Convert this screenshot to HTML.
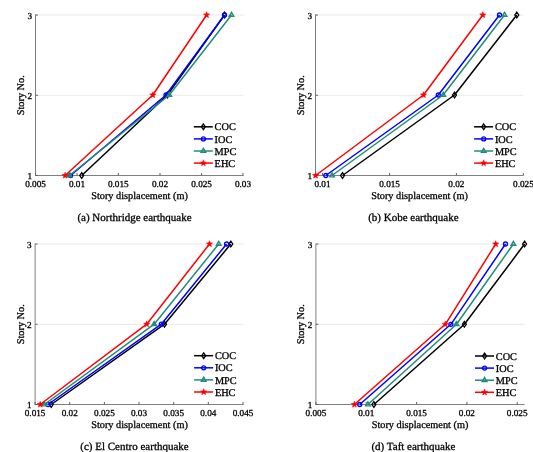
<!DOCTYPE html>
<html><head><meta charset="utf-8"><style>
svg{will-change:transform}
html,body{margin:0;padding:0;background:#fff;width:533px;height:452px;overflow:hidden;position:relative}
text{font-family:"Liberation Serif",serif;fill:#000;stroke:#000;stroke-width:0.3px;text-rendering:geometricPrecision}
.t{font-size:9.2px}
.l{font-size:10.3px}
.c{font-size:11px}
.g{font-size:10.3px}
</style></head><body>
<svg width="533" height="452" viewBox="0 0 533 452" style="position:absolute;left:0;top:0"><g><line x1="38.0" y1="15" x2="243.5" y2="15" stroke="#e8e8e8" stroke-width="1"/><line x1="38.0" y1="95.25" x2="243.5" y2="95.25" stroke="#e8e8e8" stroke-width="1"/><line x1="35.5" y1="14.5" x2="35.5" y2="176.0" stroke="#808080" stroke-width="1"/><line x1="35.0" y1="175.5" x2="243.5" y2="175.5" stroke="#808080" stroke-width="1"/><line x1="35.5" y1="15" x2="38.0" y2="15" stroke="#606060" stroke-width="1"/><text x="32.0" y="18.6" text-anchor="end" class="t">3</text><line x1="35.5" y1="95.25" x2="38.0" y2="95.25" stroke="#606060" stroke-width="1"/><text x="32.0" y="98.85" text-anchor="end" class="t">2</text><line x1="35.5" y1="175.5" x2="38.0" y2="175.5" stroke="#606060" stroke-width="1"/><text x="32.0" y="179.1" text-anchor="end" class="t">1</text><line x1="35.5" y1="175.5" x2="35.5" y2="173.0" stroke="#606060" stroke-width="1"/><text x="35.5" y="187.3" text-anchor="middle" class="t">0.005</text><line x1="77" y1="175.5" x2="77" y2="173.0" stroke="#606060" stroke-width="1"/><text x="77" y="187.3" text-anchor="middle" class="t">0.01</text><line x1="118.3" y1="175.5" x2="118.3" y2="173.0" stroke="#606060" stroke-width="1"/><text x="118.3" y="187.3" text-anchor="middle" class="t">0.015</text><line x1="160" y1="175.5" x2="160" y2="173.0" stroke="#606060" stroke-width="1"/><text x="160" y="187.3" text-anchor="middle" class="t">0.02</text><line x1="201.6" y1="175.5" x2="201.6" y2="173.0" stroke="#606060" stroke-width="1"/><text x="201.6" y="187.3" text-anchor="middle" class="t">0.025</text><line x1="243" y1="175.5" x2="243" y2="173.0" stroke="#606060" stroke-width="1"/><text x="243" y="187.3" text-anchor="middle" class="t">0.03</text><text x="139.5" y="199" text-anchor="middle" class="l">Story displacement (m)</text><text transform="translate(24.0,95.25) rotate(-90)" x="0" y="0" text-anchor="middle" class="l">Story No.</text><text x="134.5" y="220.9" text-anchor="middle" class="c">(a) Northridge earthquake</text><path d="M81.70 175.50 L167.40 95.00 L224.50 15.00" fill="none" stroke="#000000" stroke-width="1.5" stroke-linejoin="round"/><path d="M81.70 172.70L83.66 175.50L81.70 178.30L79.74 175.50Z" fill="none" stroke="#000000" stroke-width="1.3"/><path d="M167.40 92.20L169.36 95.00L167.40 97.80L165.44 95.00Z" fill="none" stroke="#000000" stroke-width="1.3"/><path d="M224.50 12.20L226.46 15.00L224.50 17.80L222.54 15.00Z" fill="none" stroke="#000000" stroke-width="1.3"/><path d="M70.60 175.50 L166.00 95.00 L224.50 15.00" fill="none" stroke="#0000ff" stroke-width="1.5" stroke-linejoin="round"/><circle cx="70.60" cy="175.50" r="2.0" fill="none" stroke="#0000ff" stroke-width="1.3"/><circle cx="166.00" cy="95.00" r="2.0" fill="none" stroke="#0000ff" stroke-width="1.3"/><circle cx="224.50" cy="15.00" r="2.0" fill="none" stroke="#0000ff" stroke-width="1.3"/><path d="M69.40 175.50 L169.30 95.00 L231.50 15.00" fill="none" stroke="#1f8c7c" stroke-width="1.5" stroke-linejoin="round"/><path d="M69.40 172.80L71.74 176.85L67.06 176.85Z" fill="none" stroke="#1f8c7c" stroke-width="1.4" stroke-linejoin="miter"/><path d="M169.30 92.30L171.64 96.35L166.96 96.35Z" fill="none" stroke="#1f8c7c" stroke-width="1.4" stroke-linejoin="miter"/><path d="M231.50 12.30L233.84 16.35L229.16 16.35Z" fill="none" stroke="#1f8c7c" stroke-width="1.4" stroke-linejoin="miter"/><path d="M65.10 175.50 L152.80 95.00 L206.60 15.00" fill="none" stroke="#ff0000" stroke-width="1.5" stroke-linejoin="round"/><path d="M65.10 172.20L65.92 174.37L68.24 174.48L66.43 175.93L67.04 178.17L65.10 176.90L63.16 178.17L63.77 175.93L61.96 174.48L64.28 174.37Z" fill="#ff0000" stroke="#ff0000" stroke-width="0.5"/><path d="M152.80 91.70L153.62 93.87L155.94 93.98L154.13 95.43L154.74 97.67L152.80 96.40L150.86 97.67L151.47 95.43L149.66 93.98L151.98 93.87Z" fill="#ff0000" stroke="#ff0000" stroke-width="0.5"/><path d="M206.60 11.70L207.42 13.87L209.74 13.98L207.93 15.43L208.54 17.67L206.60 16.40L204.66 17.67L205.27 15.43L203.46 13.98L205.78 13.87Z" fill="#ff0000" stroke="#ff0000" stroke-width="0.5"/><line x1="193.8" y1="126.80" x2="212.8" y2="126.80" stroke="#000000" stroke-width="1.5"/><path d="M203.40 124.00L205.36 126.80L203.40 129.60L201.44 126.80Z" fill="none" stroke="#000000" stroke-width="1.3"/><text x="214.60000000000002" y="130.40" class="g">COC</text><line x1="193.8" y1="138.90" x2="212.8" y2="138.90" stroke="#0000ff" stroke-width="1.5"/><circle cx="203.40" cy="138.90" r="2.0" fill="none" stroke="#0000ff" stroke-width="1.3"/><text x="214.60000000000002" y="142.50" class="g">IOC</text><line x1="193.8" y1="151.00" x2="212.8" y2="151.00" stroke="#1f8c7c" stroke-width="1.5"/><path d="M203.40 148.30L205.74 152.35L201.06 152.35Z" fill="none" stroke="#1f8c7c" stroke-width="1.4" stroke-linejoin="miter"/><text x="214.60000000000002" y="154.60" class="g">MPC</text><line x1="193.8" y1="163.10" x2="212.8" y2="163.10" stroke="#ff0000" stroke-width="1.5"/><path d="M203.40 159.80L204.22 161.97L206.54 162.08L204.73 163.53L205.34 165.77L203.40 164.50L201.46 165.77L202.07 163.53L200.26 162.08L202.58 161.97Z" fill="#ff0000" stroke="#ff0000" stroke-width="0.5"/><text x="214.60000000000002" y="166.70" class="g">EHC</text></g><g><line x1="318.0" y1="15" x2="523.4" y2="15" stroke="#e8e8e8" stroke-width="1"/><line x1="318.0" y1="95.25" x2="523.4" y2="95.25" stroke="#e8e8e8" stroke-width="1"/><line x1="315.5" y1="14.5" x2="315.5" y2="176.0" stroke="#808080" stroke-width="1"/><line x1="315.0" y1="175.5" x2="523.4" y2="175.5" stroke="#808080" stroke-width="1"/><line x1="315.5" y1="15" x2="318.0" y2="15" stroke="#606060" stroke-width="1"/><text x="312.0" y="18.6" text-anchor="end" class="t">3</text><line x1="315.5" y1="95.25" x2="318.0" y2="95.25" stroke="#606060" stroke-width="1"/><text x="312.0" y="98.85" text-anchor="end" class="t">2</text><line x1="315.5" y1="175.5" x2="318.0" y2="175.5" stroke="#606060" stroke-width="1"/><text x="312.0" y="179.1" text-anchor="end" class="t">1</text><line x1="322.5" y1="175.5" x2="322.5" y2="173.0" stroke="#606060" stroke-width="1"/><text x="322.5" y="187.3" text-anchor="middle" class="t">0.01</text><line x1="389.6" y1="175.5" x2="389.6" y2="173.0" stroke="#606060" stroke-width="1"/><text x="389.6" y="187.3" text-anchor="middle" class="t">0.015</text><line x1="456.4" y1="175.5" x2="456.4" y2="173.0" stroke="#606060" stroke-width="1"/><text x="456.4" y="187.3" text-anchor="middle" class="t">0.02</text><line x1="523.4" y1="175.5" x2="523.4" y2="173.0" stroke="#606060" stroke-width="1"/><text x="523.4" y="187.3" text-anchor="middle" class="t">0.025</text><text x="419.5" y="199" text-anchor="middle" class="l">Story displacement (m)</text><text transform="translate(304.0,95.25) rotate(-90)" x="0" y="0" text-anchor="middle" class="l">Story No.</text><text x="413.4" y="220.9" text-anchor="middle" class="c">(b) Kobe earthquake</text><path d="M342.50 175.50 L454.50 95.00 L516.80 15.00" fill="none" stroke="#000000" stroke-width="1.5" stroke-linejoin="round"/><path d="M342.50 172.70L344.46 175.50L342.50 178.30L340.54 175.50Z" fill="none" stroke="#000000" stroke-width="1.3"/><path d="M454.50 92.20L456.46 95.00L454.50 97.80L452.54 95.00Z" fill="none" stroke="#000000" stroke-width="1.3"/><path d="M516.80 12.20L518.76 15.00L516.80 17.80L514.84 15.00Z" fill="none" stroke="#000000" stroke-width="1.3"/><path d="M325.80 175.50 L438.30 95.00 L499.50 15.00" fill="none" stroke="#0000ff" stroke-width="1.5" stroke-linejoin="round"/><circle cx="325.80" cy="175.50" r="2.0" fill="none" stroke="#0000ff" stroke-width="1.3"/><circle cx="438.30" cy="95.00" r="2.0" fill="none" stroke="#0000ff" stroke-width="1.3"/><circle cx="499.50" cy="15.00" r="2.0" fill="none" stroke="#0000ff" stroke-width="1.3"/><path d="M332.00 175.50 L443.20 95.00 L504.50 15.00" fill="none" stroke="#1f8c7c" stroke-width="1.5" stroke-linejoin="round"/><path d="M332.00 172.80L334.34 176.85L329.66 176.85Z" fill="none" stroke="#1f8c7c" stroke-width="1.4" stroke-linejoin="miter"/><path d="M443.20 92.30L445.54 96.35L440.86 96.35Z" fill="none" stroke="#1f8c7c" stroke-width="1.4" stroke-linejoin="miter"/><path d="M504.50 12.30L506.84 16.35L502.16 16.35Z" fill="none" stroke="#1f8c7c" stroke-width="1.4" stroke-linejoin="miter"/><path d="M315.60 175.50 L423.50 95.00 L482.80 15.00" fill="none" stroke="#ff0000" stroke-width="1.5" stroke-linejoin="round"/><path d="M315.60 172.20L316.42 174.37L318.74 174.48L316.93 175.93L317.54 178.17L315.60 176.90L313.66 178.17L314.27 175.93L312.46 174.48L314.78 174.37Z" fill="#ff0000" stroke="#ff0000" stroke-width="0.5"/><path d="M423.50 91.70L424.32 93.87L426.64 93.98L424.83 95.43L425.44 97.67L423.50 96.40L421.56 97.67L422.17 95.43L420.36 93.98L422.68 93.87Z" fill="#ff0000" stroke="#ff0000" stroke-width="0.5"/><path d="M482.80 11.70L483.62 13.87L485.94 13.98L484.13 15.43L484.74 17.67L482.80 16.40L480.86 17.67L481.47 15.43L479.66 13.98L481.98 13.87Z" fill="#ff0000" stroke="#ff0000" stroke-width="0.5"/><line x1="474.1" y1="126.80" x2="493.1" y2="126.80" stroke="#000000" stroke-width="1.5"/><path d="M483.70 124.00L485.66 126.80L483.70 129.60L481.74 126.80Z" fill="none" stroke="#000000" stroke-width="1.3"/><text x="494.90000000000003" y="130.40" class="g">COC</text><line x1="474.1" y1="138.90" x2="493.1" y2="138.90" stroke="#0000ff" stroke-width="1.5"/><circle cx="483.70" cy="138.90" r="2.0" fill="none" stroke="#0000ff" stroke-width="1.3"/><text x="494.90000000000003" y="142.50" class="g">IOC</text><line x1="474.1" y1="151.00" x2="493.1" y2="151.00" stroke="#1f8c7c" stroke-width="1.5"/><path d="M483.70 148.30L486.04 152.35L481.36 152.35Z" fill="none" stroke="#1f8c7c" stroke-width="1.4" stroke-linejoin="miter"/><text x="494.90000000000003" y="154.60" class="g">MPC</text><line x1="474.1" y1="163.10" x2="493.1" y2="163.10" stroke="#ff0000" stroke-width="1.5"/><path d="M483.70 159.80L484.52 161.97L486.84 162.08L485.03 163.53L485.64 165.77L483.70 164.50L481.76 165.77L482.37 163.53L480.56 162.08L482.88 161.97Z" fill="#ff0000" stroke="#ff0000" stroke-width="0.5"/><text x="494.90000000000003" y="166.70" class="g">EHC</text></g><g><line x1="37.6" y1="244" x2="243.5" y2="244" stroke="#e8e8e8" stroke-width="1"/><line x1="37.6" y1="324.25" x2="243.5" y2="324.25" stroke="#e8e8e8" stroke-width="1"/><line x1="35.1" y1="243.5" x2="35.1" y2="405.0" stroke="#808080" stroke-width="1"/><line x1="34.6" y1="404.5" x2="243.5" y2="404.5" stroke="#808080" stroke-width="1"/><line x1="35.1" y1="244" x2="37.6" y2="244" stroke="#606060" stroke-width="1"/><text x="31.6" y="247.6" text-anchor="end" class="t">3</text><line x1="35.1" y1="324.25" x2="37.6" y2="324.25" stroke="#606060" stroke-width="1"/><text x="31.6" y="327.85" text-anchor="end" class="t">2</text><line x1="35.1" y1="404.5" x2="37.6" y2="404.5" stroke="#606060" stroke-width="1"/><text x="31.6" y="408.1" text-anchor="end" class="t">1</text><line x1="35.1" y1="404.5" x2="35.1" y2="402.0" stroke="#606060" stroke-width="1"/><text x="35.1" y="416.3" text-anchor="middle" class="t">0.015</text><line x1="69.7" y1="404.5" x2="69.7" y2="402.0" stroke="#606060" stroke-width="1"/><text x="69.7" y="416.3" text-anchor="middle" class="t">0.02</text><line x1="104.4" y1="404.5" x2="104.4" y2="402.0" stroke="#606060" stroke-width="1"/><text x="104.4" y="416.3" text-anchor="middle" class="t">0.025</text><line x1="139" y1="404.5" x2="139" y2="402.0" stroke="#606060" stroke-width="1"/><text x="139" y="416.3" text-anchor="middle" class="t">0.03</text><line x1="173.7" y1="404.5" x2="173.7" y2="402.0" stroke="#606060" stroke-width="1"/><text x="173.7" y="416.3" text-anchor="middle" class="t">0.035</text><line x1="208.3" y1="404.5" x2="208.3" y2="402.0" stroke="#606060" stroke-width="1"/><text x="208.3" y="416.3" text-anchor="middle" class="t">0.04</text><line x1="243" y1="404.5" x2="243" y2="402.0" stroke="#606060" stroke-width="1"/><text x="243" y="416.3" text-anchor="middle" class="t">0.045</text><text x="139.5" y="428" text-anchor="middle" class="l">Story displacement (m)</text><text transform="translate(23.6,324.25) rotate(-90)" x="0" y="0" text-anchor="middle" class="l">Story No.</text><text x="134.5" y="450" text-anchor="middle" class="c">(c) El Centro earthquake</text><path d="M51.20 404.50 L164.50 324.20 L230.80 244.00" fill="none" stroke="#000000" stroke-width="1.5" stroke-linejoin="round"/><path d="M51.20 401.70L53.16 404.50L51.20 407.30L49.24 404.50Z" fill="none" stroke="#000000" stroke-width="1.3"/><path d="M164.50 321.40L166.46 324.20L164.50 327.00L162.54 324.20Z" fill="none" stroke="#000000" stroke-width="1.3"/><path d="M230.80 241.20L232.76 244.00L230.80 246.80L228.84 244.00Z" fill="none" stroke="#000000" stroke-width="1.3"/><path d="M48.00 404.50 L161.30 324.20 L226.60 244.00" fill="none" stroke="#0000ff" stroke-width="1.5" stroke-linejoin="round"/><circle cx="48.00" cy="404.50" r="2.0" fill="none" stroke="#0000ff" stroke-width="1.3"/><circle cx="161.30" cy="324.20" r="2.0" fill="none" stroke="#0000ff" stroke-width="1.3"/><circle cx="226.60" cy="244.00" r="2.0" fill="none" stroke="#0000ff" stroke-width="1.3"/><path d="M44.30 404.50 L154.20 324.20 L218.70 244.00" fill="none" stroke="#1f8c7c" stroke-width="1.5" stroke-linejoin="round"/><path d="M44.30 401.80L46.64 405.85L41.96 405.85Z" fill="none" stroke="#1f8c7c" stroke-width="1.4" stroke-linejoin="miter"/><path d="M154.20 321.50L156.54 325.55L151.86 325.55Z" fill="none" stroke="#1f8c7c" stroke-width="1.4" stroke-linejoin="miter"/><path d="M218.70 241.30L221.04 245.35L216.36 245.35Z" fill="none" stroke="#1f8c7c" stroke-width="1.4" stroke-linejoin="miter"/><path d="M40.20 404.50 L146.70 324.20 L209.50 244.00" fill="none" stroke="#ff0000" stroke-width="1.5" stroke-linejoin="round"/><path d="M40.20 401.20L41.02 403.37L43.34 403.48L41.53 404.93L42.14 407.17L40.20 405.90L38.26 407.17L38.87 404.93L37.06 403.48L39.38 403.37Z" fill="#ff0000" stroke="#ff0000" stroke-width="0.5"/><path d="M146.70 320.90L147.52 323.07L149.84 323.18L148.03 324.63L148.64 326.87L146.70 325.60L144.76 326.87L145.37 324.63L143.56 323.18L145.88 323.07Z" fill="#ff0000" stroke="#ff0000" stroke-width="0.5"/><path d="M209.50 240.70L210.32 242.87L212.64 242.98L210.83 244.43L211.44 246.67L209.50 245.40L207.56 246.67L208.17 244.43L206.36 242.98L208.68 242.87Z" fill="#ff0000" stroke="#ff0000" stroke-width="0.5"/><line x1="194.1" y1="355.70" x2="213.1" y2="355.70" stroke="#000000" stroke-width="1.5"/><path d="M203.70 352.90L205.66 355.70L203.70 358.50L201.74 355.70Z" fill="none" stroke="#000000" stroke-width="1.3"/><text x="214.9" y="359.30" class="g">COC</text><line x1="194.1" y1="367.80" x2="213.1" y2="367.80" stroke="#0000ff" stroke-width="1.5"/><circle cx="203.70" cy="367.80" r="2.0" fill="none" stroke="#0000ff" stroke-width="1.3"/><text x="214.9" y="371.40" class="g">IOC</text><line x1="194.1" y1="379.90" x2="213.1" y2="379.90" stroke="#1f8c7c" stroke-width="1.5"/><path d="M203.70 377.20L206.04 381.25L201.36 381.25Z" fill="none" stroke="#1f8c7c" stroke-width="1.4" stroke-linejoin="miter"/><text x="214.9" y="383.50" class="g">MPC</text><line x1="194.1" y1="392.00" x2="213.1" y2="392.00" stroke="#ff0000" stroke-width="1.5"/><path d="M203.70 388.70L204.52 390.87L206.84 390.98L205.03 392.43L205.64 394.67L203.70 393.40L201.76 394.67L202.37 392.43L200.56 390.98L202.88 390.87Z" fill="#ff0000" stroke="#ff0000" stroke-width="0.5"/><text x="214.9" y="395.60" class="g">EHC</text></g><g><line x1="318.4" y1="244" x2="524.5" y2="244" stroke="#e8e8e8" stroke-width="1"/><line x1="318.4" y1="324.25" x2="524.5" y2="324.25" stroke="#e8e8e8" stroke-width="1"/><line x1="315.9" y1="243.5" x2="315.9" y2="405.0" stroke="#808080" stroke-width="1"/><line x1="315.4" y1="404.5" x2="524.5" y2="404.5" stroke="#808080" stroke-width="1"/><line x1="315.9" y1="244" x2="318.4" y2="244" stroke="#606060" stroke-width="1"/><text x="312.4" y="247.6" text-anchor="end" class="t">3</text><line x1="315.9" y1="324.25" x2="318.4" y2="324.25" stroke="#606060" stroke-width="1"/><text x="312.4" y="327.85" text-anchor="end" class="t">2</text><line x1="315.9" y1="404.5" x2="318.4" y2="404.5" stroke="#606060" stroke-width="1"/><text x="312.4" y="408.1" text-anchor="end" class="t">1</text><line x1="315.9" y1="404.5" x2="315.9" y2="402.0" stroke="#606060" stroke-width="1"/><text x="315.9" y="416.3" text-anchor="middle" class="t">0.005</text><line x1="366.2" y1="404.5" x2="366.2" y2="402.0" stroke="#606060" stroke-width="1"/><text x="366.2" y="416.3" text-anchor="middle" class="t">0.01</text><line x1="416.6" y1="404.5" x2="416.6" y2="402.0" stroke="#606060" stroke-width="1"/><text x="416.6" y="416.3" text-anchor="middle" class="t">0.015</text><line x1="466.9" y1="404.5" x2="466.9" y2="402.0" stroke="#606060" stroke-width="1"/><text x="466.9" y="416.3" text-anchor="middle" class="t">0.02</text><line x1="517.2" y1="404.5" x2="517.2" y2="402.0" stroke="#606060" stroke-width="1"/><text x="517.2" y="416.3" text-anchor="middle" class="t">0.025</text><text x="420" y="428" text-anchor="middle" class="l">Story displacement (m)</text><text transform="translate(304.4,324.25) rotate(-90)" x="0" y="0" text-anchor="middle" class="l">Story No.</text><text x="413.4" y="450" text-anchor="middle" class="c">(d) Taft earthquake</text><path d="M373.90 404.50 L464.40 324.30 L524.60 244.00" fill="none" stroke="#000000" stroke-width="1.5" stroke-linejoin="round"/><path d="M373.90 401.70L375.86 404.50L373.90 407.30L371.94 404.50Z" fill="none" stroke="#000000" stroke-width="1.3"/><path d="M464.40 321.50L466.36 324.30L464.40 327.10L462.44 324.30Z" fill="none" stroke="#000000" stroke-width="1.3"/><path d="M524.60 241.20L526.56 244.00L524.60 246.80L522.64 244.00Z" fill="none" stroke="#000000" stroke-width="1.3"/><path d="M359.70 404.50 L450.90 324.30 L505.50 244.00" fill="none" stroke="#0000ff" stroke-width="1.5" stroke-linejoin="round"/><circle cx="359.70" cy="404.50" r="2.0" fill="none" stroke="#0000ff" stroke-width="1.3"/><circle cx="450.90" cy="324.30" r="2.0" fill="none" stroke="#0000ff" stroke-width="1.3"/><circle cx="505.50" cy="244.00" r="2.0" fill="none" stroke="#0000ff" stroke-width="1.3"/><path d="M367.90 404.50 L456.50 324.30 L513.40 244.00" fill="none" stroke="#1f8c7c" stroke-width="1.5" stroke-linejoin="round"/><path d="M367.90 401.80L370.24 405.85L365.56 405.85Z" fill="none" stroke="#1f8c7c" stroke-width="1.4" stroke-linejoin="miter"/><path d="M456.50 321.60L458.84 325.65L454.16 325.65Z" fill="none" stroke="#1f8c7c" stroke-width="1.4" stroke-linejoin="miter"/><path d="M513.40 241.30L515.74 245.35L511.06 245.35Z" fill="none" stroke="#1f8c7c" stroke-width="1.4" stroke-linejoin="miter"/><path d="M354.40 404.50 L445.30 324.30 L495.70 244.00" fill="none" stroke="#ff0000" stroke-width="1.5" stroke-linejoin="round"/><path d="M354.40 401.20L355.22 403.37L357.54 403.48L355.73 404.93L356.34 407.17L354.40 405.90L352.46 407.17L353.07 404.93L351.26 403.48L353.58 403.37Z" fill="#ff0000" stroke="#ff0000" stroke-width="0.5"/><path d="M445.30 321.00L446.12 323.17L448.44 323.28L446.63 324.73L447.24 326.97L445.30 325.70L443.36 326.97L443.97 324.73L442.16 323.28L444.48 323.17Z" fill="#ff0000" stroke="#ff0000" stroke-width="0.5"/><path d="M495.70 240.70L496.52 242.87L498.84 242.98L497.03 244.43L497.64 246.67L495.70 245.40L493.76 246.67L494.37 244.43L492.56 242.98L494.88 242.87Z" fill="#ff0000" stroke="#ff0000" stroke-width="0.5"/><line x1="475" y1="356.00" x2="494" y2="356.00" stroke="#000000" stroke-width="1.5"/><path d="M484.60 353.20L486.56 356.00L484.60 358.80L482.64 356.00Z" fill="none" stroke="#000000" stroke-width="1.3"/><text x="495.8" y="359.60" class="g">COC</text><line x1="475" y1="368.10" x2="494" y2="368.10" stroke="#0000ff" stroke-width="1.5"/><circle cx="484.60" cy="368.10" r="2.0" fill="none" stroke="#0000ff" stroke-width="1.3"/><text x="495.8" y="371.70" class="g">IOC</text><line x1="475" y1="380.20" x2="494" y2="380.20" stroke="#1f8c7c" stroke-width="1.5"/><path d="M484.60 377.50L486.94 381.55L482.26 381.55Z" fill="none" stroke="#1f8c7c" stroke-width="1.4" stroke-linejoin="miter"/><text x="495.8" y="383.80" class="g">MPC</text><line x1="475" y1="392.30" x2="494" y2="392.30" stroke="#ff0000" stroke-width="1.5"/><path d="M484.60 389.00L485.42 391.17L487.74 391.28L485.93 392.73L486.54 394.97L484.60 393.70L482.66 394.97L483.27 392.73L481.46 391.28L483.78 391.17Z" fill="#ff0000" stroke="#ff0000" stroke-width="0.5"/><text x="495.8" y="395.90" class="g">EHC</text></g></svg>
</body></html>
